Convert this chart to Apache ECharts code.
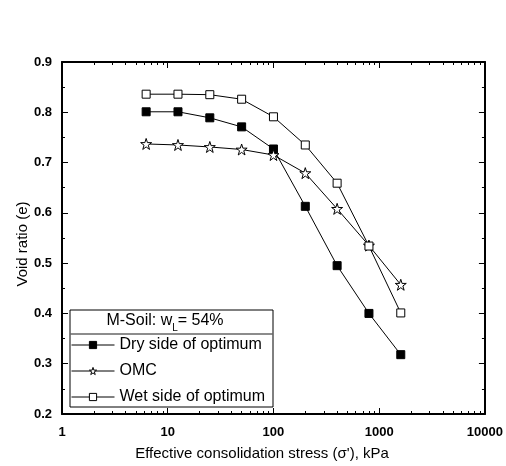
<!DOCTYPE html>
<html>
<head>
<meta charset="utf-8">
<script src="https://cdn.jsdelivr.net/npm/echarts@6/dist/echarts.min.js"></script>
<style>
  html, body { margin: 0; padding: 0; background: #fff; }
  #chart { width: 506px; height: 466px; }
</style>
</head>
<body>
<div id="chart"></div>
<script>
const FONT = "Liberation Sans, Arial, sans-serif";
const stress = [6.25, 12.5, 25, 50, 100, 200, 400, 800, 1600];
const drySide = [0.801, 0.801, 0.789, 0.771, 0.727, 0.613, 0.495, 0.400, 0.318];
const omc = [0.737, 0.735, 0.731, 0.726, 0.715, 0.679, 0.608, 0.535, 0.457];
const wetSide = [0.836, 0.836, 0.835, 0.826, 0.791, 0.735, 0.659, 0.534, 0.401];
const seriesNames = ["Dry side of optimum", "OMC", "Wet side of optimum"];
const minorStress = [2, 3, 4, 5, 6, 7, 8, 9, 20, 30, 40, 50, 60, 70, 80, 90,
  200, 300, 400, 500, 600, 700, 800, 900, 2000, 3000, 4000, 5000, 6000, 7000, 8000, 9000];

const STAR = "path://M50,2 L61,36 L97,36 L68,57 L79,92 L50,71 L21,92 L32,57 L3,36 L39,36 Z";
const markerFill = ["#000", "#fff", "#fff"];

function pairs(ys) {
  return stress.map((x, i) => [x, ys[i]]);
}

function logAxis(position, major, labels) {
  return {
    type: "log",
    logBase: 10,
    min: 1,
    max: 10000,
    position: position,
    axisLine: { show: major, onZero: false, lineStyle: { color: "#000", width: 2 } },
    axisTick: major
      ? { show: true, inside: true, length: 6, lineStyle: { color: "#000", width: 1 } }
      : { show: true, inside: true, length: 3, customValues: minorStress, lineStyle: { color: "#000", width: 1 } },
    axisLabel: { show: labels, color: "#000", fontFamily: FONT, fontWeight: "bold", fontSize: 13, margin: 12,
      formatter: v => String(v) },
    splitLine: { show: false }
  };
}

function ratioAxis(position, labels) {
  return {
    type: "value",
    min: 0.2,
    max: 0.9,
    interval: 0.1,
    position: position,
    axisLine: { show: true, onZero: false, lineStyle: { color: "#000", width: 2 } },
    axisTick: { show: true, inside: true, length: 6, lineStyle: { color: "#000", width: 1 } },
    minorTick: { show: true, splitNumber: 2, length: 3, lineStyle: { color: "#000", width: 1 } },
    axisLabel: { show: labels, color: "#000", fontFamily: FONT, fontWeight: "bold", fontSize: 13, margin: 10,
      formatter: v => v.toFixed(1) },
    splitLine: { show: false },
    minorSplitLine: { show: false }
  };
}

function lineSeries(name, ys, symbol, size, fill) {
  return {
    name: name,
    type: "line",
    xAxisIndex: 0,
    yAxisIndex: 0,
    data: pairs(ys),
    symbol: symbol,
    symbolSize: size,
    showAllSymbol: true,
    lineStyle: { color: "#000", width: 1 },
    itemStyle: { color: fill, borderColor: "#000", borderWidth: 1 },
    emphasis: { disabled: true },
    z: 3
  };
}

const chart = echarts.init(document.getElementById("chart"), null, { renderer: "canvas" });
chart.setOption({
  animation: false,
  backgroundColor: "#fff",
  textStyle: { fontFamily: FONT },
  grid: { left: 62, right: 18, top: 62, bottom: 52 },
  xAxis: [
    logAxis("bottom", true, true),
    logAxis("bottom", false, false),
    logAxis("top", true, false),
    logAxis("top", false, false)
  ],
  yAxis: [
    ratioAxis("left", true),
    ratioAxis("right", false)
  ],
  legend: {
    data: seriesNames.map((name, i) => ({
      name: name,
      itemStyle: { color: markerFill[i], borderColor: "#000", borderWidth: 1 },
      lineStyle: { color: "#000", width: 1 }
    })),
    orient: "vertical",
    left: 71,
    top: 337,
    padding: 0,
    itemGap: 10,
    itemWidth: 43,
    itemHeight: 9,
    z: 10,
    textStyle: { color: "#000", fontFamily: FONT, fontSize: 16, lineHeight: 16 }
  },
  graphic: [
    {
      type: "rect", z: 5,
      shape: { x: 70, y: 310, width: 203, height: 97 },
      style: { fill: "#fff", stroke: "#000", lineWidth: 1 }
    },
    {
      type: "line", z: 6,
      shape: { x1: 70, y1: 334, x2: 273, y2: 334 },
      style: { stroke: "#666", lineWidth: 1.5 }
    },
    {
      type: "text", z: 6, x: 165, y: 321,
      style: {
        text: "{a|M-Soil: w}{s|L}{a|= 54%}",
        align: "center", verticalAlign: "middle",
        rich: {
          a: { fontFamily: FONT, fontSize: 16, fill: "#000", lineHeight: 24, verticalAlign: "middle" },
          s: { fontFamily: FONT, fontSize: 10, fill: "#000", lineHeight: 24, verticalAlign: "bottom" }
        }
      }
    },
    {
      type: "text", x: 262, y: 454,
      style: {
        text: "Effective consolidation stress (\u03c3'), kPa",
        fontFamily: FONT, fontSize: 15, fill: "#000", align: "center", verticalAlign: "middle"
      }
    },
    {
      type: "text", x: 23, y: 244, rotation: Math.PI / 2,
      style: {
        text: "Void ratio (e)",
        fontFamily: FONT, fontSize: 15, fill: "#000", align: "center", verticalAlign: "middle"
      }
    }
  ],
  series: [
    lineSeries(seriesNames[0], drySide, "rect", 8, markerFill[0]),
    lineSeries(seriesNames[1], omc, STAR, 11, markerFill[1]),
    lineSeries(seriesNames[2], wetSide, "rect", 8, markerFill[2])
  ]
});
</script>
</body>
</html>
